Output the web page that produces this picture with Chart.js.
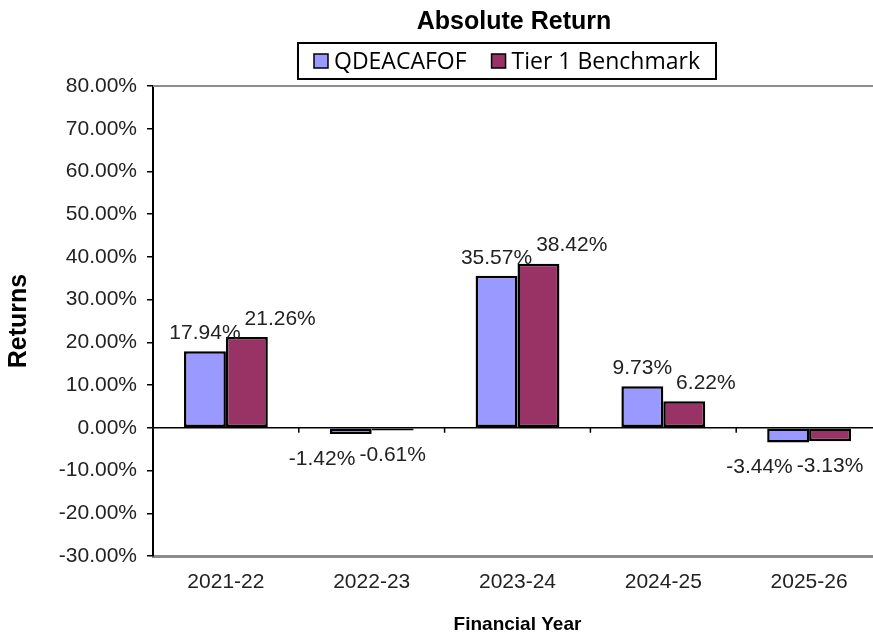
<!DOCTYPE html>
<html lang="en">

<head>
    <meta charset="UTF-8">
    <title>Absolute Return</title>
    <style>
        html, body { margin: 0; padding: 0; background: #fff; overflow: hidden; }
    </style>
</head>

<body>
    <canvas id="myChart" width="882" height="640"></canvas>

    <script src="https://cdn.jsdelivr.net/npm/chart.js@4/dist/chart.umd.min.js"></script>
    <script>
        const years = ['2021-22', '2022-23', '2023-24', '2024-25', '2025-26'];
        const fundReturns = [17.94, -1.42, 35.57, 9.73, -3.44];
        const benchmarkReturns = [21.26, -0.61, 38.42, 6.22, -3.13];
        const seriesNames = ['QDEACAFOF', 'Tier 1 Benchmark'];
        const seriesColors = ['#9999ff', '#993366'];

        const ARIAL = '"Liberation Sans", Arial, sans-serif';

        // title, legend box, zero line, gray frame lines, value labels
        const extras = {
            id: 'extras',
            beforeDatasetsDraw(chart) {
                const ctx = chart.ctx;
                const area = chart.chartArea;
                const x = chart.scales.x;
                const y0 = chart.scales.y.getPixelForValue(0);
                ctx.save();
                // top gray line
                ctx.strokeStyle = '#8c8c8c';
                ctx.lineWidth = 2;
                ctx.beginPath();
                ctx.moveTo(area.left, area.top);
                ctx.lineTo(area.right, area.top);
                ctx.stroke();
                // zero line with category ticks
                ctx.strokeStyle = '#000';
                ctx.lineWidth = 1.5;
                ctx.beginPath();
                ctx.moveTo(area.left, y0);
                ctx.lineTo(area.right, y0);
                for (let i = 0; i < years.length - 1; i++) {
                    const bx = (x.getPixelForValue(i) + x.getPixelForValue(i + 1)) / 2;
                    ctx.moveTo(bx, y0);
                    ctx.lineTo(bx, y0 + 5);
                }
                ctx.stroke();
                ctx.restore();
            },
            afterDatasetsDraw(chart) {
                const ctx = chart.ctx;
                ctx.save();
                ctx.font = '21px ' + ARIAL;
                ctx.fillStyle = '#222';
                ctx.textBaseline = 'middle';
                ctx.textAlign = 'center';
                const m0 = chart.getDatasetMeta(0).data;
                const m1 = chart.getDatasetMeta(1).data;
                for (let i = 0; i < years.length; i++) {
                    const v0 = chart.data.datasets[0].data[i];
                    const v1 = chart.data.datasets[1].data[i];
                    const t0 = v0.toFixed(2) + '%';
                    const t1 = v1.toFixed(2) + '%';
                    const w0 = ctx.measureText(t0).width;
                    const w1 = ctx.measureText(t1).width;
                    let c0 = m0[i].x, c1 = m1[i].x;
                    const overlap = (c0 + w0 / 2 + 4) - (c1 - w1 / 2);
                    if (overlap > 0) {
                        if (v0 >= 0) c1 += overlap;
                        else c0 -= overlap;
                    }
                    const y0 = v0 >= 0 ? m0[i].y - 18 : m0[i].y + 25;
                    const y1 = v1 >= 0 ? m1[i].y - 18 : m1[i].y + 25;
                    ctx.fillText(t0, c0, y0);
                    ctx.fillText(t1, c1, y1);
                }
                ctx.restore();
            },
            afterDraw(chart) {
                const ctx = chart.ctx;
                ctx.save();
                // title
                ctx.fillStyle = '#000';
                ctx.font = 'bold 25px ' + ARIAL;
                ctx.textAlign = 'center';
                ctx.textBaseline = 'middle';
                ctx.fillText('Absolute Return', 514, 22);

                // legend box
                ctx.font = '23px "Open Sans", sans-serif';
                ctx.textAlign = 'left';
                const sq = 14, gap = 6, between = 25, pad = 16;
                const widths = seriesNames.map(n => ctx.measureText(n).width);
                let boxW = pad * 2;
                widths.forEach((w, i) => { boxW += sq + gap + w + (i ? between : 0); });
                const boxX = 507 - boxW / 2, boxY = 43, boxH = 36;
                ctx.lineWidth = 2;
                ctx.strokeStyle = '#000';
                ctx.strokeRect(boxX, boxY, boxW, boxH);
                let lx = boxX + pad;
                const ly = boxY + boxH / 2;
                seriesNames.forEach((n, i) => {
                    ctx.fillStyle = seriesColors[i];
                    ctx.fillRect(lx, ly - sq / 2, sq, sq);
                    ctx.lineWidth = 1.5;
                    ctx.strokeRect(lx, ly - sq / 2, sq, sq);
                    ctx.fillStyle = '#000';
                    ctx.fillText(n, lx + sq + gap, ly + 1);
                    lx += sq + gap + widths[i] + between;
                });
                ctx.restore();
            }
        };

        const ctx = document.getElementById('myChart');
        const config = {
            type: 'bar',
            data: {
                labels: years,
                datasets: [
                    {
                        label: seriesNames[0],
                        data: fundReturns,
                        backgroundColor: seriesColors[0],
                        borderColor: '#000',
                        borderWidth: 2.5,
                        borderSkipped: false,
                    },
                    {
                        label: seriesNames[1],
                        data: benchmarkReturns,
                        backgroundColor: seriesColors[1],
                        borderColor: '#000',
                        borderWidth: 2.5,
                        borderSkipped: false,
                    }
                ]
            },
            options: {
                responsive: false,
                animation: false,
                layout: { padding: { top: 86, left: 0, right: 0, bottom: 0 } },
                datasets: {
                    bar: { categoryPercentage: 0.575, barPercentage: 1.0 }
                },
                plugins: {
                    legend: { display: false },
                    title: { display: false },
                    tooltip: { enabled: false }
                },
                scales: {
                    x: {
                        grid: { display: true, drawOnChartArea: false, drawTicks: false },
                        border: { display: true, color: '#8c8c8c', width: 3 },
                        ticks: {
                            color: '#222',
                            font: { family: ARIAL, size: 21 },
                            padding: 14
                        },
                        title: {
                            display: true,
                            text: 'Financial Year',
                            color: '#000',
                            font: { family: ARIAL, size: 19, weight: 'bold' }
                        },
                        afterFit(scale) { scale.height = 84; }
                    },
                    y: {
                        min: -30,
                        max: 80,
                        grid: { drawOnChartArea: false, color: '#000', tickLength: 6, lineWidth: 1.5 },
                        border: { display: true, color: '#000', width: 2 },
                        ticks: {
                            stepSize: 10,
                            color: '#222',
                            padding: 10,
                            font: { family: ARIAL, size: 21 },
                            callback: v => v.toFixed(2) + '%'
                        },
                        title: {
                            display: true,
                            text: 'Returns',
                            color: '#000',
                            font: { family: ARIAL, size: 25, weight: 'bold' }
                        },
                        afterFit(scale) { scale.width = 153; }
                    }
                }
            },
            plugins: [extras]
        };
        const chart = new Chart(ctx, config);
    </script>

</body>

</html>
